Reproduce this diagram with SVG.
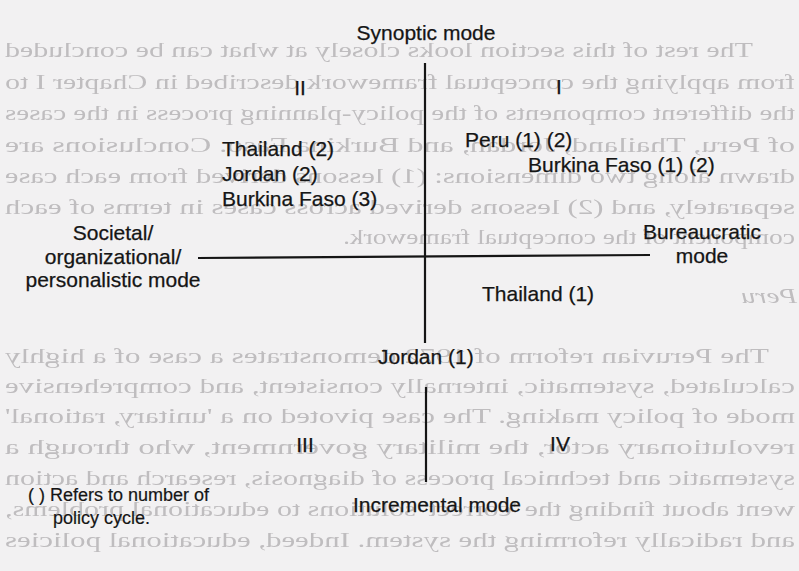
<svg xmlns="http://www.w3.org/2000/svg" xmlns:xlink="http://www.w3.org/1999/xlink" width="799" height="571" viewBox="0 0 799 571">
  <defs>
    <filter id="soft" x="-5%" y="-5%" width="110%" height="110%">
      <feGaussianBlur stdDeviation="0.7"/>
    </filter>
    <style>
      .bg { fill: #f2f1f2; }
      .ghost { font-family: "Liberation Serif", "Times New Roman", serif; font-size: 21px; fill: #bfbdbf; }
      .lbl { font-family: "Liberation Sans", Arial, Helvetica, sans-serif; font-size: 21px; fill: #151515; stroke: #151515; stroke-width: 0.25; }
      .mid { text-anchor: middle; }
      .note { font-family: "Liberation Sans", Arial, Helvetica, sans-serif; font-size: 18px; fill: #151515; stroke: #151515; stroke-width: 0.2; }
      .axis { stroke: #151515; stroke-width: 2.2; fill: none; stroke-linecap: butt; }
    </style>
  </defs>

  <rect class="bg" x="0" y="0" width="799" height="571"/>

  <!-- faint show-through of the reverse page (mirrored) -->
  <g id="show-through" filter="url(#soft)" transform="matrix(-1 0 0 1 799 0)">
    <text class="ghost" x="46" y="57" textLength="748" lengthAdjust="spacingAndGlyphs">The rest of this section looks closely at what can be concluded</text>
    <text class="ghost" x="4" y="89" textLength="790" lengthAdjust="spacingAndGlyphs">from applying the conceptual framework described in Chapter I to</text>
    <text class="ghost" x="4" y="120" textLength="790" lengthAdjust="spacingAndGlyphs">the different components of the policy-planning process in the cases</text>
    <text class="ghost" x="4" y="152" textLength="790" lengthAdjust="spacingAndGlyphs">of Peru, Thailand, Jordan, and Burkina Faso. Conclusions are</text>
    <text class="ghost" x="4" y="183" textLength="790" lengthAdjust="spacingAndGlyphs">drawn along two dimensions: (1) lessons derived from each case</text>
    <text class="ghost" x="4" y="214" textLength="790" lengthAdjust="spacingAndGlyphs">separately, and (2) lessons derived across cases in terms of each</text>
    <text class="ghost" x="4" y="244" textLength="452" lengthAdjust="spacingAndGlyphs">component of the conceptual framework.</text>
    <text class="ghost" x="2" y="303" font-style="italic" textLength="56" lengthAdjust="spacingAndGlyphs">Peru</text>
    <text class="ghost" x="30" y="363" textLength="764" lengthAdjust="spacingAndGlyphs">The Peruvian reform of 1972 demonstrates a case of a highly</text>
    <text class="ghost" x="4" y="393" textLength="790" lengthAdjust="spacingAndGlyphs">calculated, systematic, internally consistent, and comprehensive</text>
    <text class="ghost" x="4" y="423" textLength="790" lengthAdjust="spacingAndGlyphs">mode of policy making. The case pivoted on a 'unitary, rational'</text>
    <text class="ghost" x="4" y="454" textLength="790" lengthAdjust="spacingAndGlyphs">revolutionary actor, the military government, who through a</text>
    <text class="ghost" x="4" y="485" textLength="790" lengthAdjust="spacingAndGlyphs">systematic and technical process of diagnosis, research and action</text>
    <text class="ghost" x="4" y="516" textLength="790" lengthAdjust="spacingAndGlyphs">went about finding the 'correct' solutions to educational problems,</text>
    <text class="ghost" x="4" y="547" textLength="790" lengthAdjust="spacingAndGlyphs">and radically reforming the system. Indeed, educational policies</text>
  </g>

  <!-- connectors: the two axes -->
  <g id="connectors">
    <line id="axis-vertical-upper" class="axis" x1="425" y1="63" x2="425" y2="343"/>
    <line id="axis-vertical-lower" class="axis" x1="426" y1="387" x2="426" y2="482"/>
    <line id="axis-horizontal" class="axis" x1="198" y1="258" x2="650" y2="255"/>
  </g>

  <!-- pole labels -->
  <g id="synoptic-mode"><text class="lbl mid" x="426" y="40">Synoptic mode</text></g>
  <g id="incremental-mode"><text class="lbl mid" x="437" y="512">Incremental mode</text></g>
  <g id="societal-mode">
    <text class="lbl mid" x="113" y="240">Societal/</text>
    <text class="lbl mid" x="113" y="264">organizational/</text>
    <text class="lbl mid" x="113" y="287">personalistic mode</text>
  </g>
  <g id="bureaucratic-mode">
    <text class="lbl mid" x="702" y="239">Bureaucratic</text>
    <text class="lbl mid" x="702" y="263">mode</text>
  </g>

  <!-- quadrant numerals -->
  <g id="quadrant-I"><text class="lbl mid" x="559" y="94">I</text></g>
  <g id="quadrant-II"><text class="lbl mid" x="300" y="95">II</text></g>
  <g id="quadrant-III"><text class="lbl mid" x="305" y="452">III</text></g>
  <g id="quadrant-IV"><text class="lbl mid" x="560" y="451">IV</text></g>

  <!-- cases -->
  <g id="cases-quadrant-II">
    <text class="lbl" x="222" y="156">Thailand (2)</text>
    <text class="lbl" x="222" y="181">Jordan (2)</text>
    <text class="lbl" x="222" y="206">Burkina Faso (3)</text>
  </g>
  <g id="cases-quadrant-I">
    <text class="lbl" x="465" y="147">Peru (1) (2)</text>
    <text class="lbl" x="528" y="172">Burkina Faso (1) (2)</text>
  </g>
  <g id="thailand-1"><text class="lbl" x="482" y="301">Thailand (1)</text></g>
  <g id="jordan-1"><text class="lbl" x="378" y="364">Jordan (1)</text></g>

  <!-- footnote -->
  <g id="footnote">
    <text class="note" x="28" y="501">( ) Refers to number of</text>
    <text class="note" x="53" y="524">policy cycle.</text>
  </g>
</svg>
